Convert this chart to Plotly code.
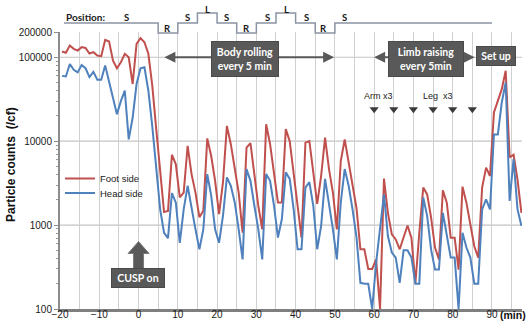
import math
import plotly.graph_objects as go

# ---------------- data ----------------
minutes = [m + 0.5 for m in range(-20, 98)]  # sampling times (min)

foot_side = [
    117000, 113000, 138000, 126000, 120000, 132000, 129000, 111000, 115000, 105000,
    103000, 161000, 154000, 91000, 74000, 87000, 110000, 100000, 48000, 144000,
    169000, 151000, 110000, 46000, 14000, 4200, 1430, 1470, 6900, 5300,
    2140, 2440, 8800, 4050, 2440, 1240, 1480, 10800, 6650, 3370,
    1350, 3230, 15200, 9200, 4600, 2440, 810, 8400, 9500, 3860,
    1690, 890, 15900, 9200, 4250, 1860, 1860, 13900, 10000, 4250,
    1690, 710, 9600, 10000, 4250, 1790, 3860, 11000, 4650, 2440,
    890, 5800, 10500, 5600, 2940, 1600, 515, 515, 300, 300,
    390, 100, 3580, 1400, 775, 675, 515, 740, 990, 705,
    200, 810, 2800, 2320, 1230, 540, 390, 2600, 1850, 705,
    705, 295, 2870, 1850, 970, 560, 410, 2800, 4840, 3850,
    22000, 30000, 41700, 69000, 6400, 6900, 3500, 1400,
]

head_side = [
    60000, 59000, 83000, 71000, 66000, 81000, 74000, 58000, 67000, 54000,
    54000, 80000, 51000, 33000, 21000, 30000, 40000, 10500, 19000, 48000,
    74000, 76000, 40000, 15000, 4600, 1550, 810, 700, 2400, 1850,
    615, 1540, 2940, 1540, 890, 515, 890, 4050, 2250, 890,
    615, 1290, 3700, 2940, 1860, 890, 390, 4650, 3370, 1700,
    890, 390, 4050, 3370, 1700, 710, 1180, 4250, 3550, 1540,
    515, 515, 2800, 3250, 1690, 515, 980, 3550, 1860, 890,
    390, 1860, 4650, 2940, 1540, 720, 205, 200, 200, 100,
    355, 975, 2320, 740, 470, 410, 205, 500, 500, 410,
    200, 200, 2130, 1280, 510, 295, 295, 1400, 740, 410,
    410, 100, 810, 540, 410, 200, 200, 1540, 2030, 1540,
    12000, 12000, 29000, 50000, 1940, 6100, 1550, 980,
]

pos_labels = ["S", "R", "S", "L", "S", "R", "S", "L", "S", "R", "S"]
pos_bounds = [-19, 5, 10, 15, 20, 25, 30, 35, 40, 45, 50, 90]
pos_label_min = [-3, 7.5, 12.5, 17.5, 22.5, 27.5, 32.8, 37.7, 42.8, 47.2, 52.4]

limb_event_min = [60, 65, 70, 75, 80, 85]

y_tick_vals = [100, 1000, 10000, 100000, 200000]
y_grid_vals = [1000, 10000, 100000]
y_minor_vals = [m * 10 ** d for d in range(2, 5) for m in range(2, 10)]

# ---------------- styling ----------------
RED = "#C0504D"
BLUE = "#4F81BD"
BOX = "#595959"
GRID = "#d0d0d0"
FONT = "Liberation Sans"
BOXFONT = "Lato"

Y_LO, Y_HI = 2.0, math.log10(200000)
X_LO, X_HI = -20, 97.65


def ypaper(v):
    return (math.log10(v) - Y_LO) / (Y_HI - Y_LO)


level = {"S": 1.0325, "R": 0.996, "L": 1.0686}
label_y = {"S": 1.054, "R": 1.0144, "L": 1.083}

fig = go.Figure()
fig.add_trace(go.Scatter(x=minutes, y=foot_side, mode="lines", name="Foot side",
                         line=dict(color=RED, width=2), legend="legend"))
fig.add_trace(go.Scatter(x=minutes, y=head_side, mode="lines", name="Head side",
                         line=dict(color=BLUE, width=2), legend="legend2"))
fig.add_trace(go.Scatter(x=limb_event_min, y=[24000] * len(limb_event_min), mode="markers",
                         marker=dict(symbol="triangle-down", size=8, color="#3a3a3a"),
                         showlegend=False, hoverinfo="skip"))

shapes = []
for gv in y_grid_vals:
    shapes.append(dict(type="line", xref="paper", yref="paper", x0=0, x1=1,
                       y0=ypaper(gv), y1=ypaper(gv), layer="below",
                       line=dict(color="#c4c4c4", width=1.2)))

# stepped position line
path = f"M{pos_bounds[0]},{level[pos_labels[0]]}"
for i, lab in enumerate(pos_labels):
    path += f" L{pos_bounds[i + 1]},{level[lab]}"
    if i + 1 < len(pos_labels):
        path += f" L{pos_bounds[i + 1]},{level[pos_labels[i + 1]]}"
shapes.append(dict(type="path", xref="x", yref="paper", path=path,
                   line=dict(color="#8a94a3", width=1.5)))

# CUSP on block arrow (anchored at CUSP-on time 0 min)
cusp_t = 0
px_per_min = 462 / (X_HI - X_LO)
sh = 5 / px_per_min
hh = 10.5 / px_per_min
tip, base, bottom = 1 - (241.5 - 32) / 277, 1 - (253.5 - 32) / 277, 1 - (270 - 32) / 277
shapes.append(dict(type="path", xref="x", yref="paper",
                   path=(f"M{cusp_t},{tip} L{cusp_t + hh},{base} L{cusp_t + sh},{base} "
                         f"L{cusp_t + sh},{bottom} L{cusp_t - sh},{bottom} L{cusp_t - sh},{base} "
                         f"L{cusp_t - hh},{base} Z"),
                   fillcolor=BOX, line=dict(color="#7a7a7a", width=1)))

annotations = []
# position labels
annotations.append(dict(x=-13.4, y=label_y["S"], xref="x", yref="paper", text="<b>Position:</b>",
                        showarrow=False, xanchor="center", yanchor="middle",
                        font=dict(family=BOXFONT, size=10, color="#1a1a1a")))
for lab, xm in zip(pos_labels, pos_label_min):
    annotations.append(dict(x=xm, y=label_y[lab], xref="x", yref="paper", text=f"<b>{lab}</b>",
                            showarrow=False, xanchor="center", yanchor="middle",
                            font=dict(family=BOXFONT, size=9.5, color="#1a1a1a")))

# arrows
arrow_y = 5.0
annotations.append(dict(x=49.8, y=arrow_y, ax=6.2, ay=arrow_y, xref="x", yref="y", axref="x", ayref="y",
                        text="", showarrow=True, arrowside="end+start", arrowhead=2, startarrowhead=2,
                        arrowsize=1.1, startarrowsize=1.1, arrowwidth=2, arrowcolor=BOX))
annotations.append(dict(x=60, y=arrow_y, ax=70, ay=arrow_y, xref="x", yref="y", axref="x", ayref="y",
                        text="", showarrow=True, arrowhead=2, arrowsize=1.1, arrowwidth=2, arrowcolor=BOX))
annotations.append(dict(x=85.6, y=arrow_y, ax=78, ay=arrow_y, xref="x", yref="y", axref="x", ayref="y",
                        text="", showarrow=True, arrowhead=2, arrowsize=1.1, arrowwidth=2, arrowcolor=BOX))

boxfont = dict(family=BOXFONT, size=10.5, color="white")
annotations.append(dict(x=27.0, y=4.98, xref="x", yref="y", text="<b>Body rolling<br>every 5 min</b>",
                        showarrow=False, font=boxfont, bgcolor=BOX, bordercolor="#4a4a4a",
                        borderwidth=1, borderpad=3, width=60, height=28))
annotations.append(dict(x=73.2, y=4.98, xref="x", yref="y", text="<b>Limb raising<br>every 5min</b>",
                        showarrow=False, font=boxfont, bgcolor=BOX, bordercolor="#4a4a4a",
                        borderwidth=1, borderpad=3, width=68, height=28))
annotations.append(dict(x=91.0, y=5.01, xref="x", yref="y", text="<b>Set up</b>",
                        showarrow=False, font=boxfont, bgcolor=BOX, bordercolor="#4a4a4a",
                        borderwidth=1, borderpad=2, width=34, height=14))
annotations.append(dict(x=-0.2, y=2.37, xref="x", yref="y", text="<b>CUSP on</b>",
                        showarrow=False, font=boxfont, bgcolor=BOX, bordercolor="#4a4a4a",
                        borderwidth=1, borderpad=2, width=48, height=14))

annotations.append(dict(x=61, y=4.536, xref="x", yref="y", text="Arm x3", showarrow=False,
                        font=dict(family=FONT, size=9, color="#222")))
annotations.append(dict(x=76.3, y=4.536, xref="x", yref="y", text="Leg  x3", showarrow=False,
                        font=dict(family=FONT, size=9, color="#222")))

# axis titles
annotations.append(dict(x=-0.106, y=0.52, xref="paper", yref="paper", text="<b>Particle counts  (/cf)</b>",
                        textangle=-90, showarrow=False, xanchor="center", yanchor="middle",
                        font=dict(family=FONT, size=12, color="#111")))
annotations.append(dict(x=0.98, y=-0.022, xref="paper", yref="paper", text="<b>(min)</b>",
                        showarrow=False, xanchor="center", yanchor="middle",
                        font=dict(family=FONT, size=10.5, color="#111")))

legend_common = dict(x=0.0, xanchor="left", yanchor="middle", bgcolor="rgba(0,0,0,0)",
                     font=dict(family=FONT, size=9.5, color="#1a1a1a"), itemwidth=30)

fig.update_layout(
    width=528, height=321,
    margin=dict(l=60, r=6, t=32, b=12),
    paper_bgcolor="white", plot_bgcolor="white",
    font=dict(family=FONT, size=10, color="#1a1a1a"),
    shapes=shapes, annotations=annotations,
    legend=dict(y=(309 - 178.5) / 277, **legend_common),
    legend2=dict(y=(309 - 193) / 277, **legend_common),
    xaxis=dict(range=[X_LO, X_HI], tick0=0, dtick=10, showgrid=True, gridcolor=GRID, gridwidth=1.2,
               zeroline=False, showline=True, linecolor="#7f7f7f", linewidth=3, ticks="",
               minor=dict(dtick=5, showgrid=True, gridcolor=GRID, gridwidth=1.2),
               ticklabelstandoff=-6,
               tickfont=dict(family=FONT, size=10, color="#1a1a1a"), automargin=False),
    yaxis=dict(type="log", range=[Y_LO, Y_HI], tickmode="array", tickvals=y_tick_vals,
               ticktext=[str(v) for v in y_tick_vals], showgrid=False, zeroline=False,
               showline=True, linecolor="#8c8c8c", linewidth=2, ticks="outside", ticklen=4,
               tickcolor="#8c8c8c",
               minor=dict(tickmode="array", tickvals=y_minor_vals, ticks="outside", ticklen=2,
                          tickcolor="#9a9a9a", showgrid=False),
               tickfont=dict(family=FONT, size=10, color="#1a1a1a"), automargin=False),
    showlegend=True,
)

fig.write_html("out.html")
